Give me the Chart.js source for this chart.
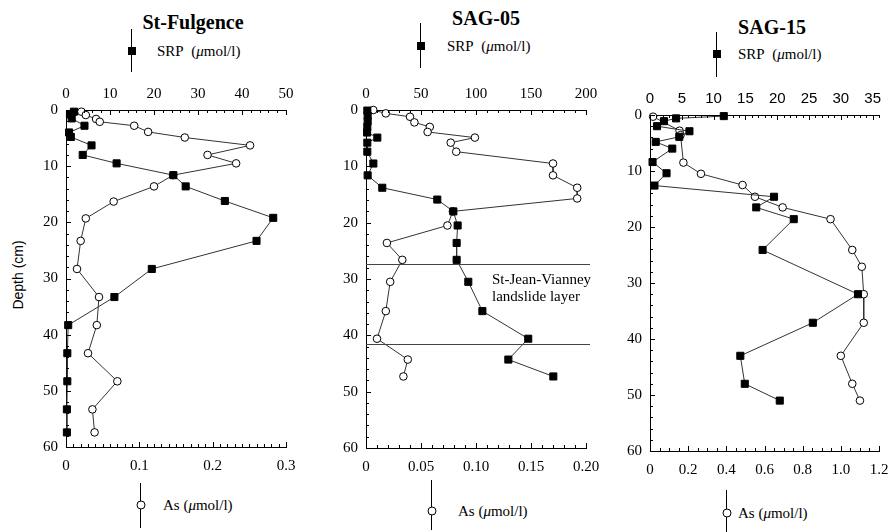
<!DOCTYPE html>
<html>
<head>
<meta charset="utf-8">
<script src="https://cdn.jsdelivr.net/npm/chart.js@4.4.1/dist/chart.umd.min.js"></script>
<style>
  body { margin: 0; background: #fff; }
  #page { position: relative; width: 892px; height: 532px; overflow: hidden; font-family: "Liberation Serif", "Times New Roman", serif; color: #000; }
  canvas { position: absolute; }
  .title { position: absolute; font-weight: bold; font-size: 20px; transform: translate(-50%, -50%); white-space: nowrap; }
  .legtext { position: absolute; font-size: 15px; transform: translateY(-50%); white-space: nowrap; }
  .vline { position: absolute; width: 1px; background: #000; }
  .sq { position: absolute; width: 8px; height: 8px; background: #000; transform: translate(-50%, -50%); }
  .circ { position: absolute; width: 7px; height: 7px; border: 1px solid #000; border-radius: 50%; background: #fff; transform: translate(-50%, -50%); }
  .note { position: absolute; font-size: 15px; line-height: 17px; white-space: nowrap; }
  #ylab { position: absolute; left: 18px; top: 275px; font-family: "Liberation Sans", Arial, sans-serif; font-size: 14px; transform: translate(-50%, -50%) rotate(-90deg); white-space: nowrap; }
</style>
</head>
<body>
<div id="page">
  <canvas id="c1" width="266" height="397" style="left:36px;top:80px"></canvas>
  <canvas id="c2" width="266" height="398" style="left:336px;top:80px"></canvas>
  <canvas id="c3" width="271" height="396" style="left:620px;top:85px"></canvas>

  <div id="ylab">Depth (cm)</div>

  <div class="title" style="left:193px;top:22px">St-Fulgence</div>
  <div class="vline" style="left:131px;top:29px;height:43px"></div>
  <div class="sq" style="left:131.5px;top:51px"></div>
  <div class="legtext" style="left:157px;top:51px">SRP&nbsp; (<i>μ</i>mol/l)</div>
  <div class="vline" style="left:140px;top:483px;height:45px"></div>
  <div class="circ" style="left:140.5px;top:505px"></div>
  <div class="legtext" style="left:163px;top:505px">As (<i>μ</i>mol/l)</div>

  <div class="title" style="left:486px;top:18px">SAG-05</div>
  <div class="vline" style="left:420px;top:23px;height:45px"></div>
  <div class="sq" style="left:420.5px;top:46px"></div>
  <div class="legtext" style="left:447px;top:46px">SRP&nbsp; (<i>μ</i>mol/l)</div>
  <div class="vline" style="left:431px;top:480px;height:50px"></div>
  <div class="circ" style="left:431.5px;top:511px"></div>
  <div class="legtext" style="left:458px;top:511px">As (<i>μ</i>mol/l)</div>
  <div class="note" style="left:492px;top:271px">St-Jean-Vianney<br>landslide layer</div>

  <div class="title" style="left:772px;top:27px">SAG-15</div>
  <div class="vline" style="left:716px;top:32px;height:45px"></div>
  <div class="sq" style="left:716.5px;top:54px"></div>
  <div class="legtext" style="left:738px;top:54px">SRP&nbsp; (<i>μ</i>mol/l)</div>
  <div class="vline" style="left:726px;top:490px;height:42px"></div>
  <div class="circ" style="left:726.5px;top:513px"></div>
  <div class="legtext" style="left:738px;top:513px">As (<i>μ</i>mol/l)</div>
</div>

<script>
// St-Fulgence
const fulSrpDepth = [0.3, 0.8, 1.5, 2.8, 4.0, 4.8, 6.3, 8.0, 9.5, 11.6, 13.6, 16.2, 19.2, 23.3, 28.3, 33.3, 38.3, 43.3, 48.3, 53.3, 57.4];
const fulSrp = [1.8, 0.9, 1.3, 4.2, 0.7, 1.1, 5.8, 3.8, 11.5, 24.4, 27.2, 36.1, 47.1, 43.3, 19.5, 11.0, 0.5, 0.3, 0.3, 0.2, 0.2];
const fulAsDepth = [0.3, 0.9, 1.6, 2.1, 2.8, 3.9, 4.9, 6.3, 8.0, 9.5, 11.6, 13.6, 16.3, 19.3, 23.3, 28.3, 33.3, 38.3, 43.3, 48.3, 53.3, 57.4];
const fulAs = [0.021, 0.027, 0.041, 0.046, 0.093, 0.112, 0.162, 0.251, 0.193, 0.232, 0.146, 0.120, 0.065, 0.027, 0.020, 0.015, 0.045, 0.042, 0.030, 0.070, 0.036, 0.039];

// SAG-05
const s05SrpDepth = [0.1, 1.0, 2.0, 3.0, 4.0, 4.9, 5.8, 7.4, 9.5, 11.6, 13.8, 15.9, 18.0, 20.5, 23.6, 26.6, 30.5, 35.7, 40.6, 44.3, 47.3];
const s05Srp = [1.2, 1.5, 1.5, 1.2, 1.0, 10.3, 1.2, 1.2, 6.7, 1.5, 14.8, 64.8, 79.4, 83.3, 82.4, 82.4, 93.0, 105.8, 147.5, 129.4, 170.3];
const s05AsDepth = [0.0, 0.6, 1.2, 2.2, 3.0, 3.9, 4.9, 5.8, 7.4, 9.5, 11.6, 13.8, 15.7, 18.0, 20.5, 23.6, 26.6, 30.5, 35.7, 40.6, 44.3, 47.3];
const s05As = [0.0066, 0.018, 0.040, 0.044, 0.058, 0.056, 0.099, 0.077, 0.082, 0.170, 0.170, 0.192, 0.192, 0.079, 0.074, 0.019, 0.033, 0.022, 0.018, 0.010, 0.038, 0.034];
const landslideLayer = [27.3, 41.5];

// SAG-15
const s15SrpDepth = [0.2, 0.6, 1.1, 2.0, 2.9, 3.9, 4.8, 6.0, 8.4, 10.4, 12.6, 14.6, 16.5, 18.6, 24.1, 32.0, 37.1, 43.0, 48.0, 51.0];
const s15Srp = [11.6, 4.1, 2.2, 1.1, 6.2, 4.6, 0.9, 3.5, 0.4, 2.6, 0.7, 19.5, 16.7, 22.6, 17.7, 32.7, 25.6, 14.2, 14.9, 20.4];
const s15AsDepth = [0.3, 2.8, 3.6, 8.5, 10.5, 12.5, 14.6, 16.5, 18.6, 24.1, 27.1, 32.0, 37.1, 43.0, 48.0, 51.0];
const s15As = [0.016, 0.155, 0.160, 0.175, 0.267, 0.485, 0.550, 0.695, 0.946, 1.06, 1.11, 1.12, 1.12, 1.00, 1.06, 1.10];

const serif = "'Liberation Serif', 'Times New Roman', serif";
const sans = "'Liberation Sans', Arial, sans-serif";

// ticks pointing into the plot, drawn from the chart's own scales
const inTicks = {
    id: 'inTicks',
    afterDraw(chart, args, opts) {
        const { ctx, chartArea: a } = chart;
        ctx.save();
        ctx.strokeStyle = '#000';
        ctx.lineWidth = 1;
        (opts.axes || []).forEach(t => {
            const s = chart.scales[t.id];
            const n = Math.round((s.max - s.min) / t.minor);
            for (let i = 0; i <= n; i++) {
                const v = s.min + i * t.minor;
                const r = v / t.major;
                const len = Math.abs(r - Math.round(r)) < 1e-6 ? 5 : 3;
                const p = Math.round(s.getPixelForValue(v)) + 0.5;
                ctx.beginPath();
                if (s.axis === 'y') { ctx.moveTo(a.left, p); ctx.lineTo(a.left + len, p); }
                else if (s.position === 'top') { ctx.moveTo(p, a.top); ctx.lineTo(p, a.top + len); }
                else { ctx.moveTo(p, a.bottom); ctx.lineTo(p, a.bottom - len); }
                ctx.stroke();
            }
        });
        ctx.restore();
    }
};

// horizontal lines marking the landslide layer
const layerLines = {
    id: 'layerLines',
    afterDatasetsDraw(chart, args, opts) {
        if (!opts.depths) return;
        const { ctx, chartArea: a } = chart;
        const y = chart.scales.y;
        ctx.save();
        ctx.strokeStyle = '#444';
        ctx.lineWidth = 1;
        opts.depths.forEach(d => {
            const p = Math.round(y.getPixelForValue(d)) + 0.5;
            ctx.beginPath();
            ctx.moveTo(a.left, p);
            ctx.lineTo(a.right + 4, p);
            ctx.stroke();
        });
        ctx.restore();
    }
};

function pairs(xs, ys) {
    return xs.map((x, i) => ({ x: x, y: ys[i] }));
}

function makePanel(id, p) {
    const ctx = document.getElementById(id).getContext('2d');
    return new Chart(ctx, {
        type: 'scatter',
        data: {
            datasets: [{
                label: 'SRP',
                data: pairs(p.srp, p.srpDepth),
                xAxisID: 'x2',
                showLine: true,
                borderColor: '#333',
                borderWidth: 1,
                pointStyle: 'rect',
                pointRadius: 5,
                pointBackgroundColor: '#000',
                pointBorderColor: '#000',
                pointBorderWidth: 1,
                clip: false
            }, {
                label: 'As',
                data: pairs(p.as, p.asDepth),
                xAxisID: 'x',
                showLine: true,
                borderColor: '#333',
                borderWidth: 1,
                pointStyle: 'circle',
                pointRadius: 3.8,
                pointBackgroundColor: '#fff',
                pointBorderColor: '#000',
                pointBorderWidth: 1,
                clip: false
            }]
        },
        plugins: [inTicks, layerLines],
        options: {
            responsive: false,
            animation: false,
            layout: { padding: { right: p.padRight } },
            plugins: {
                legend: { display: false },
                tooltip: { enabled: false },
                inTicks: {
                    axes: [
                        { id: 'x', minor: p.asMinor, major: p.asStep },
                        { id: 'x2', minor: p.srpMinor, major: p.srpStep },
                        { id: 'y', minor: 2, major: 10 }
                    ]
                },
                layerLines: { depths: p.layers }
            },
            scales: {
                x: {
                    type: 'linear',
                    position: 'bottom',
                    min: 0,
                    max: p.asMax,
                    grid: { display: false, drawTicks: false },
                    border: { color: '#000', width: 1 },
                    ticks: { stepSize: p.asStep, color: '#000', padding: 10, maxRotation: 0, font: { family: serif, size: 15 } },
                    afterFit: s => { s.height = 30; s.paddingLeft = 0; s.paddingRight = 0; }
                },
                x2: {
                    type: 'linear',
                    position: 'top',
                    min: 0,
                    max: p.srpMax,
                    grid: { display: false, drawTicks: false },
                    border: { color: '#000', width: 1 },
                    ticks: { stepSize: p.srpStep, includeBounds: false, color: '#000', padding: 7, maxRotation: 0, font: { family: p.topFont, size: 15 } },
                    afterFit: s => { s.height = 30; s.paddingLeft = 0; s.paddingRight = 0; }
                },
                y: {
                    type: 'linear',
                    reverse: true,
                    min: 0,
                    max: 60,
                    grid: { display: false, drawTicks: false },
                    border: { color: '#000', width: 1 },
                    ticks: { stepSize: 10, color: '#000', padding: 8, font: { family: serif, size: 15 } },
                    afterFit: s => { s.width = 30; s.paddingTop = 0; s.paddingBottom = 0; }
                }
            }
        }
    });
}

makePanel('c1', {
    srp: fulSrp, srpDepth: fulSrpDepth, as: fulAs, asDepth: fulAsDepth,
    srpMax: 50, srpStep: 10, srpMinor: 2, asMax: 0.3, asStep: 0.1, asMinor: 0.01,
    topFont: serif, padRight: 16, layers: null
});
makePanel('c2', {
    srp: s05Srp, srpDepth: s05SrpDepth, as: s05As, asDepth: s05AsDepth,
    srpMax: 200, srpStep: 50, srpMinor: 10, asMax: 0.2, asStep: 0.05, asMinor: 0.01,
    topFont: serif, padRight: 16, layers: landslideLayer
});
makePanel('c3', {
    srp: s15Srp, srpDepth: s15SrpDepth, as: s15As, asDepth: s15AsDepth,
    srpMax: 36, srpStep: 5, srpMinor: 1, asMax: 1.2, asStep: 0.2, asMinor: 0.05,
    topFont: sans, padRight: 12, layers: null
});
</script>
</body>
</html>
